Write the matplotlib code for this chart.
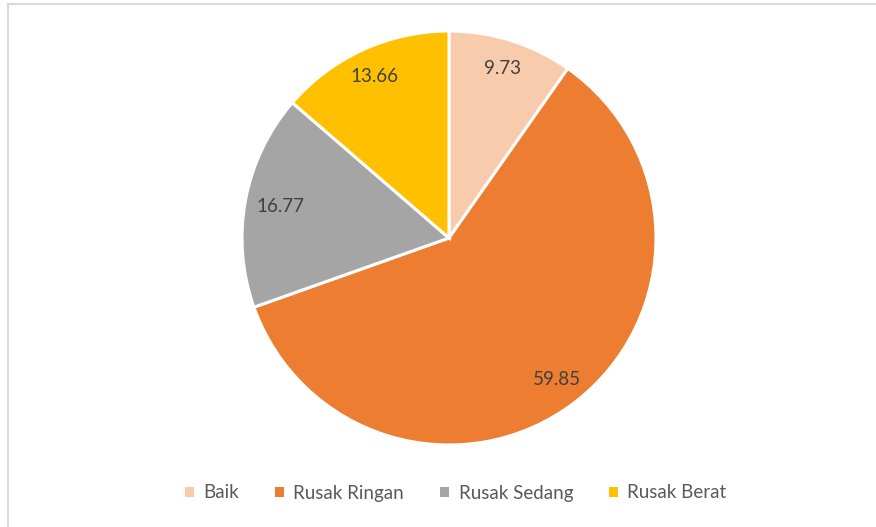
import numpy as np
import matplotlib.pyplot as plt
from matplotlib.patches import Rectangle, Patch

categories = ["Baik", "Rusak Ringan", "Rusak Sedang", "Rusak Berat"]
values = [9.73, 59.85, 16.77, 13.66]
value_labels = ["9.73", "59.85", "16.77", "13.66"]
colors = ["#F8CBAD", "#ED7D31", "#A5A5A5", "#FFC000"]

plt.rcParams["font.family"] = ["Lato", "DejaVu Sans"]

W, H = 876, 527
fig = plt.figure(figsize=(W / 100, H / 100), dpi=100)

# light grey chart-area border (left + top visible, rest runs off the image)
fig.patches.append(Rectangle((8 / W, -0.05), 1.0, (H - 4) / H + 0.05,
                             transform=fig.transFigure, fill=False,
                             edgecolor="#D9D9D9", linewidth=1.5))

cx, cy, r = 449, 238, 207
ax = fig.add_axes([(cx - r) / W, (H - cy - r) / H, 2 * r / W, 2 * r / H])
wedges, _ = ax.pie(values, colors=colors, startangle=90, counterclock=False,
                   radius=1.0, wedgeprops=dict(edgecolor="white", linewidth=2.2))
ax.set_xlim(-1, 1)
ax.set_ylim(-1, 1)
ax.set_aspect("equal")
ax.axis("off")

for w, lab in zip(wedges, value_labels):
    ang = np.deg2rad((w.theta1 + w.theta2) / 2)
    d = 0.83 if lab == "16.77" else 0.86
    ax.text(d * np.cos(ang), d * np.sin(ang), lab, ha="center", va="center",
            fontsize=13.5, color="#404040")

handles = [Patch(facecolor=c, edgecolor="none") for c in colors]
fig.legend(handles, categories, loc="center", bbox_to_anchor=(0.52, (H - 493) / H),
           ncol=4, frameon=False, fontsize=13.5, handlelength=0.5, handleheight=0.5,
           handletextpad=0.5, columnspacing=1.9, labelcolor="#595959")

fig.savefig("out.png", dpi=100)
